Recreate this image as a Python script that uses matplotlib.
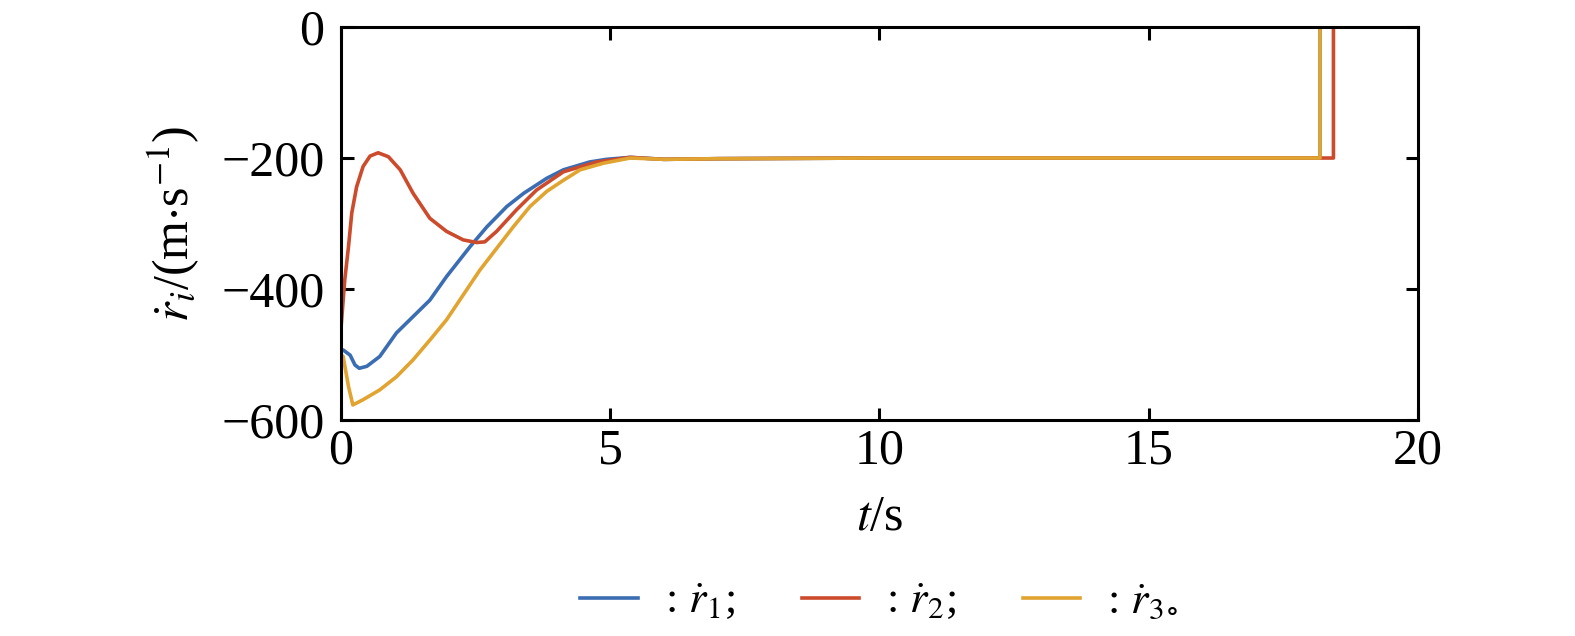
import matplotlib.pyplot as plt
import numpy as np

plt.rcParams['font.family'] = ['Liberation Serif', 'DejaVu Serif']
plt.rcParams['mathtext.fontset'] = 'stix'

# time (s) and velocity (m/s)
t1 = [0.0, 0.04, 0.17, 0.26, 0.34, 0.48, 0.72, 1.03, 1.34, 1.65, 1.96, 2.40, 2.71, 3.08, 3.39,
      3.82, 4.13, 4.62, 4.93, 5.37, 6.0, 7.0, 10.0, 15.0, 18.18, 18.18]
r1 = [-495, -493, -501, -516, -521, -518, -503, -467, -442, -417, -381, -335, -305, -274, -254,
      -231, -218, -206, -202, -199, -202, -201, -200, -200, -200, 20]

t2 = [0.0, 0.07, 0.14, 0.20, 0.29, 0.41, 0.54, 0.69, 0.88, 1.10, 1.34, 1.65, 1.96, 2.27, 2.52,
      2.67, 2.89, 3.26, 3.63, 4.13, 4.75, 5.37, 6.0, 7.0, 10.0, 15.0, 18.43, 18.43]
r2 = [-460, -386, -335, -284, -244, -213, -197, -192, -198, -218, -254, -292, -312, -325, -329,
      -328, -312, -279, -249, -221, -206, -199, -202, -201, -200, -200, -200, 20]

t3 = [0.0, 0.04, 0.14, 0.22, 0.41, 0.72, 1.03, 1.34, 1.65, 1.96, 2.58, 2.89, 3.20, 3.51, 3.82,
      4.13, 4.44, 4.87, 5.37, 6.0, 7.0, 10.0, 15.0, 18.18, 18.18]
r3 = [-500, -503, -549, -577, -569, -554, -534, -508, -478, -447, -371, -338, -305, -274, -251,
      -234, -218, -208, -200, -202, -201, -200, -200, -200, 20]

labels = [r': $\dot{r}_1$;', r': $\dot{r}_2$;', r': $\dot{r}_3$$_{\circ}$']
colors = ['#3b6db3', '#cc4b2c', '#e1a431']

fig = plt.figure(figsize=(15.75, 6.36), dpi=100)
ax = fig.add_axes([0.2165, 0.3396, 0.6838, 0.6179])

for t, r, lab, c in zip([t1, t2, t3], [r1, r2, r3], labels, colors):
    ax.plot(t, r, color=c, lw=2.6, label=lab)

ax.set_xlim(0, 20)
ax.set_ylim(-600, 0)
ax.set_xticks([0, 5, 10, 15, 20])
ax.set_yticks([-600, -400, -200, 0])
ax.tick_params(direction='in', length=9, width=2.2, labelsize=36, top=True, right=True)
ax.tick_params(axis='x', pad=6)
ax.tick_params(axis='y', pad=12)
for s in ax.spines.values():
    s.set_linewidth(2.2)

ax.set_xlabel(r'$t$/s', fontsize=36, labelpad=14)
ax.set_ylabel(r'$\dot{r}_i$/(m$\cdot$s$^{-1}$)', fontsize=36, labelpad=14)

ax.legend(loc='upper center', bbox_to_anchor=(0.5, -0.31), ncol=3, frameon=False,
          fontsize=32, handlelength=1.3, columnspacing=1.5, handletextpad=0.6)

fig.savefig('out.png', dpi=100)
